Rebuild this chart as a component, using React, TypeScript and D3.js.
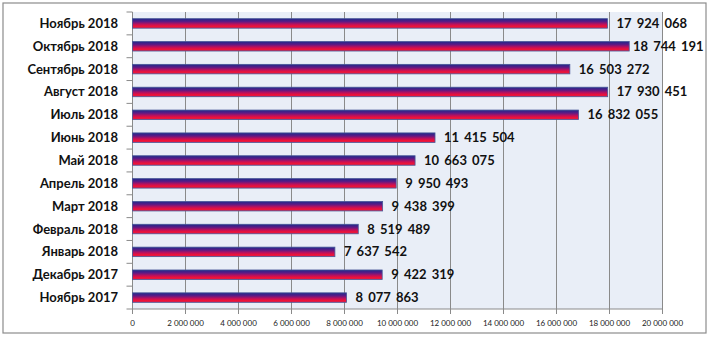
import React from "react";
import * as d3 from "d3";

const categories = [
  "Ноябрь 2018",
  "Октябрь 2018",
  "Сентябрь 2018",
  "Август 2018",
  "Июль 2018",
  "Июнь 2018",
  "Май 2018",
  "Апрель 2018",
  "Март 2018",
  "Февраль 2018",
  "Январь 2018",
  "Декабрь 2017",
  "Ноябрь 2017",
];
const values = [
  17924068, 18744191, 16503272, 17930451, 16832055, 11415504, 10663075,
  9950493, 9438399, 8519489, 7637542, 9422319, 8077863,
];
const ticks = [0, 2e6, 4e6, 6e6, 8e6, 10e6, 12e6, 14e6, 16e6, 18e6, 20e6];

const W = 710;
const H = 337;
const left = 132.5;
const right = 662.5;
const top = 12;
const bottom = 309;
const frameRight = 706;

const fmt = (v: number) => {
  const s = String(v);
  const parts: string[] = [];
  for (let i = s.length; i > 0; i -= 3) parts.unshift(s.slice(Math.max(0, i - 3), i));
  return parts.join(" ");
};

export default function App() {
  const x = d3.scaleLinear().domain([0, 20e6]).range([left, right]);
  const y = d3.scaleBand<string>().domain(categories).range([top, bottom]);
  const bw = y.bandwidth();
  const barH = 9.5;
  const font = "Lato, 'Open Sans', sans-serif";

  return (
    <svg width={W} height={H} style={{ position: "absolute", left: 0, top: 0 }}>
      <defs>
        <linearGradient id="barg" x1="0" y1="0" x2="0" y2="1">
          <stop offset="0%" stopColor="#1e2a8a" />
          <stop offset="30%" stopColor="#5a1a86" />
          <stop offset="60%" stopColor="#c0105a" />
          <stop offset="80%" stopColor="#ee1238" />
          <stop offset="100%" stopColor="#d8204a" />
        </linearGradient>
      </defs>
      <rect x={0} y={0} width={W} height={H} fill="#fff" />
      <rect x={3} y={3} width={frameRight - 3} height={330} fill="#fff" stroke="#8c8c8c" strokeWidth={1.2} />
      <rect x={left} y={top} width={right - left} height={bottom - top} fill="#e9eef7" />
      {ticks.slice(1).map((t) => (
        <line key={"g" + t} x1={x(t)} x2={x(t)} y1={top} y2={bottom} stroke="#8a8a8a" strokeWidth={1} />
      ))}
      <line x1={left} x2={left} y1={top} y2={bottom} stroke="#8a8a8a" />
      <line x1={left} x2={right} y1={bottom} y2={bottom} stroke="#8a8a8a" />
      {ticks.map((t) => (
        <line key={"t" + t} x1={x(t)} x2={x(t)} y1={bottom} y2={bottom + 5} stroke="#8a8a8a" />
      ))}
      {d3.range(categories.length + 1).map((i) => (
        <line key={"yt" + i} x1={left - 6} x2={left} y1={top + i * bw} y2={top + i * bw} stroke="#8a8a8a" />
      ))}
      {ticks.map((t) => (
        <text key={"tl" + t} x={x(t)} y={325.5} textAnchor="middle" fontFamily={font} fontSize={8} fill="#222">
          {fmt(t)}
        </text>
      ))}
      {categories.map((c, i) => {
        const cy = (y(c) as number) + bw / 2;
        const xe = x(values[i]);
        const lw = 70;
        const lx = Math.min(xe + 9, frameRight - 3 - lw);
        return (
          <g key={c}>
            <text x={118} y={cy + 4.5} textAnchor="end" fontFamily={font} fontWeight="bold" fontSize={13} fill="#111">
              {c}
            </text>
            <rect x={left} y={cy - barH / 2} width={xe - left} height={barH} fill="url(#barg)" stroke="#4a5898" strokeWidth={0.8} />
            <text x={lx} y={cy + 4.5} fontFamily={font} fontWeight="bold" fontSize={13} fill="#111" style={{ wordSpacing: "2px" }}>
              {fmt(values[i])}
            </text>
          </g>
        );
      })}
    </svg>
  );
}
